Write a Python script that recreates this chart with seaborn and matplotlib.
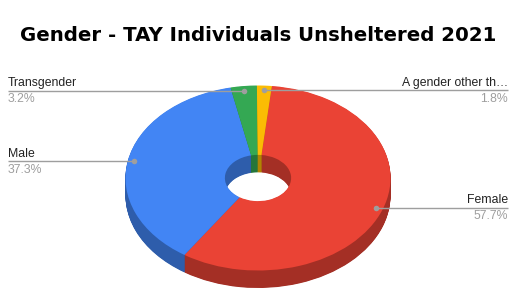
import numpy as np
import matplotlib
matplotlib.use("Agg")
import matplotlib.pyplot as plt
import seaborn as sns

# data (pie order, clockwise from the top)
categories = ["Female", "Male", "Transgender", "A gender other th\u2026"]
shares = [57.7, 37.3, 3.2, 1.8]
pct_labels = ["57.7%", "37.3%", "3.2%", "1.8%"]
slice_colors = ["#EA4335", "#4285F4", "#34A853", "#FBBC04"]
label_side = ["right", "left", "left", "right"]
title = "Gender - TAY Individuals Unsheltered 2021"

W, H = 510, 288
CX, CY = 258, 178      # centre of the top face, px
RX, RY = 132.5, 92.5   # ellipse radii, px
DEPTH = 17.5           # thickness of the disc, px
HOLE = 0.25            # inner radius / outer radius

sns.set_theme(style="white")
plt.rcParams["font.family"] = ["Liberation Sans", "DejaVu Sans"]

fig = plt.figure(figsize=(W / 100, H / 100), dpi=100)
ax = fig.add_axes([0, 0, 1, 1])

top = sns.color_palette(slice_colors)
side = [tuple(c * 0.7 for c in col) for col in top]

# stacked darker layers -> rim and inner wall of the donut
for d in np.arange(DEPTH, 0, -0.5):
    ax.pie(shares, colors=side, startangle=84, counterclock=False,
           center=(0, -d / RY), wedgeprops=dict(width=1 - HOLE, linewidth=0))

wedges, _ = ax.pie(shares, colors=top, startangle=84, counterclock=False,
                   center=(0, 0), wedgeprops=dict(width=1 - HOLE, linewidth=0))

ax.set_aspect("auto")
ax.set_xlim(-CX / RX, (W - CX) / RX)
ax.set_ylim((CY - H) / RY, CY / RY)
ax.axis("off")

# leader lines + labels
for wdg, name, pct, sd in zip(wedges, categories, pct_labels, label_side):
    mid = np.deg2rad((wdg.theta1 + wdg.theta2) / 2)
    dx, dy = 0.95 * np.cos(mid), 0.95 * np.sin(mid)
    x_end = ((8 if sd == "left" else 508) - CX) / RX
    ax.plot([x_end, dx], [dy, dy], color="#9e9e9e", lw=1, solid_capstyle="butt")
    ax.plot(dx, dy, "o", ms=4, color="#9e9e9e", mec="none")
    ax.text(x_end, dy + 4.5 / RY, name, ha=sd, va="baseline",
            fontsize=8.8, color="#222222")
    ax.text(x_end, dy - 11.5 / RY, pct, ha=sd, va="baseline",
            fontsize=8.8, color="#9e9e9e")

fig.text(258 / W, 1 - 41 / H, title, ha="center", va="baseline",
         fontsize=14.2, fontweight="bold", color="black", family="DejaVu Sans")

fig.savefig("out.png", dpi=100, facecolor="white")
